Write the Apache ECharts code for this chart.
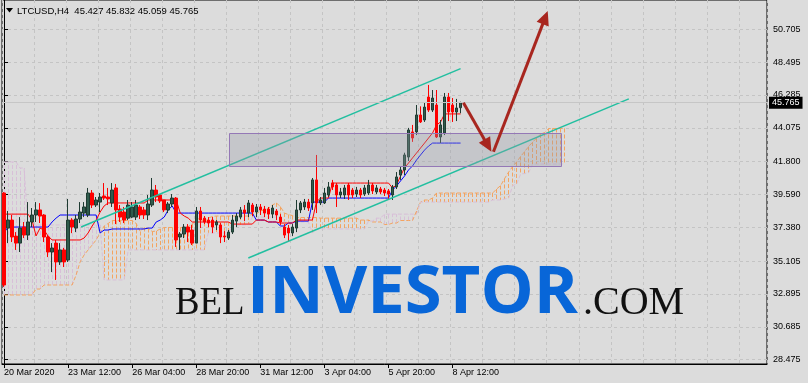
<!DOCTYPE html>
<html>
<head>
<meta charset="utf-8">
<script src="https://cdn.jsdelivr.net/npm/echarts@6/dist/echarts.min.js"></script>
<style>
html,body{margin:0;padding:0;background:#dcdcdc;overflow:hidden;}
#chart{width:808px;height:383px;}
</style>
</head>
<body>
<div id="chart"></div>
<script>
// ---------- data ----------
const symbolLine = 'LTCUSD,H4  45.427 45.832 45.059 45.765';
const lastPrice = 45.765;
const slotCount = 191;           // bar slots across the plot (bars + empty right side)
const xTickLabels = ['20 Mar 2020','23 Mar 12:00','26 Mar 04:00','28 Mar 20:00','31 Mar 12:00','3 Apr 04:00','5 Apr 20:00','8 Apr 12:00'];
const xTickEvery = 16;
const yTicks = [28.475, 30.685, 32.895, 35.105, 37.380, 39.590, 41.800, 44.075, 46.285, 48.495, 50.705];

const opens = [39.69,37.33,37.87,36.79,36.32,37.40,36.86,37.74,38.21,38.55,
 38.21,36.73,35.72,36.32,35.05,35.86,35.18,37.87,37.33,37.94,
 38.34,38.21,39.69,38.88,39.08,39.49,39.42,39.02,40.03,38.61,
 38.41,38.00,38.07,38.07,38.75,38.55,38.21,38.88,39.89,39.56,
 39.22,38.55,38.95,39.35,36.73,36.93,37.40,37.20,36.32,38.48,
 38.00,37.87,37.87,37.54,37.54,36.80,36.66,37.06,37.80,38.07,
 38.55,38.34,38.88,38.41,38.75,38.61,38.61,38.27,38.48,38.07,
 37.40,37.33,37.00,37.33,38.55,38.75,39.08,39.02,40.57,39.02,
 39.02,39.56,40.37,40.23,39.56,39.56,40.23,39.89,39.62,39.89,
 39.62,39.69,40.23,39.76,39.96,39.89,39.83,39.56,40.10,40.90,
 41.24,42.11,43.80,43.80,44.94,44.60,46.15,45.27,45.61,43.46,
 43.73,46.15,45.61,45.14,45.427];
const closes = [33.50,37.87,36.73,36.32,37.33,36.86,37.74,38.21,38.55,38.14,
 36.73,35.72,35.99,35.05,35.86,35.05,37.87,37.40,37.94,38.41,
 38.75,39.69,38.88,39.22,39.42,39.35,39.29,39.89,38.55,38.07,
 37.87,38.88,38.75,38.88,38.21,38.21,38.95,39.89,39.42,39.15,
 38.55,38.95,39.35,36.53,36.93,37.40,37.06,36.32,38.48,37.87,
 37.74,37.67,37.40,37.74,36.73,36.73,37.06,37.87,38.14,38.55,
 38.34,39.02,38.41,38.75,38.55,38.34,38.27,38.68,38.21,37.74,
 36.86,37.00,37.40,38.55,39.02,39.08,38.68,40.57,39.02,39.22,
 39.69,40.10,40.10,39.56,39.76,40.03,39.56,39.56,39.89,39.56,
 40.03,40.23,39.83,40.03,39.76,39.69,39.62,40.10,40.77,41.24,
 42.25,43.93,43.39,44.94,44.47,45.47,45.27,46.08,43.46,44.27,
 46.15,45.14,45.14,45.41,45.765];
const lows = [33.37,36.32,36.39,35.86,35.72,36.66,36.53,37.40,37.74,37.67,
 36.39,35.38,34.37,33.84,34.85,34.71,35.05,36.99,37.06,37.67,
 38.07,38.07,38.68,38.75,38.41,39.22,38.88,38.75,37.60,37.74,
 37.67,37.87,38.00,37.87,37.94,37.94,37.87,38.75,39.08,39.02,
 38.41,38.34,38.75,36.06,35.86,36.66,36.39,36.19,36.32,37.33,
 37.60,37.40,36.99,37.20,36.32,36.39,36.53,36.93,37.40,37.94,
 37.80,38.07,38.14,38.07,38.21,38.07,37.94,38.00,37.87,37.54,
 36.66,36.46,36.79,37.06,38.34,38.55,38.48,38.55,38.34,38.88,
 38.95,39.42,39.89,38.75,39.35,39.29,39.22,39.35,39.42,39.35,
 39.49,39.56,39.62,39.62,39.62,39.49,39.22,39.22,39.96,40.57,
 40.90,41.84,43.13,43.59,44.40,44.47,45.14,45.14,43.39,43.06,
 43.59,44.53,44.47,44.53,45.059];
const highs = [39.75,38.48,38.21,37.06,38.07,37.74,39.08,38.68,39.08,39.01,
 38.27,36.86,36.32,36.53,36.32,36.00,39.29,38.00,38.21,39.08,
 39.08,40.03,39.89,39.42,39.69,40.36,40.03,40.36,40.30,38.88,
 38.75,39.22,39.08,39.22,38.88,38.75,39.56,40.70,40.23,39.62,
 39.22,39.08,39.62,39.42,37.06,37.60,37.60,37.54,38.75,38.75,
 38.14,38.07,38.07,37.87,37.67,37.13,37.20,38.21,38.34,38.75,
 38.88,39.22,39.02,38.95,38.95,38.82,38.75,38.88,38.61,38.27,
 37.60,37.54,37.60,39.22,39.15,39.29,39.29,40.70,42.25,39.42,
 40.03,40.43,40.57,40.37,40.03,40.23,40.37,40.03,40.10,40.03,
 40.23,40.57,40.37,40.23,40.10,40.03,39.96,40.23,41.10,41.50,
 42.40,44.07,44.27,45.61,45.52,45.81,46.96,46.62,46.62,44.60,
 46.42,46.42,46.08,46.02,45.832];

const tenkan = [38.27,38.27,38.27,38.27,38.27,38.27,38.27,37.87,36.80,37.33,
 37.20,36.80,36.53,36.53,36.53,36.53,36.53,36.53,36.53,36.53,
 36.66,37.00,37.47,37.87,38.41,38.82,39.02,39.02,39.02,39.02,
 39.02,39.02,39.02,39.02,39.02,39.02,39.22,39.22,39.22,39.22,
 39.22,39.22,39.22,39.22,38.34,38.14,38.00,37.74,37.74,37.74,
 37.74,37.74,37.74,37.74,37.74,37.74,37.74,37.60,37.60,37.60,
 37.60,37.60,37.60,37.87,37.87,37.87,37.74,37.74,37.74,37.67,
 37.67,37.67,37.67,37.87,37.87,37.87,37.87,37.87,39.08,39.35,
 39.35,39.35,40.36,40.36,40.36,40.36,40.36,40.36,40.36,40.36,
 40.36,40.36,40.36,40.36,40.36,40.36,40.36,40.03,40.23,40.83,
 41.37,41.71,42.05,42.38,42.72,43.05,43.39,43.73,44.27,44.47,
 45.01,45.01,45.01,45.01,45.01];
const kijun = [37.00,37.40,37.40,37.40,37.40,37.40,37.40,37.40,37.40,37.40,
 37.40,37.40,37.74,38.00,38.21,38.21,38.21,38.21,38.21,38.21,
 38.21,38.21,38.21,38.21,37.00,37.20,37.20,37.27,37.27,37.27,
 37.27,37.27,37.27,37.27,37.27,37.27,37.33,37.33,37.74,37.87,
 38.07,38.55,38.82,38.34,38.34,38.34,38.34,38.34,38.34,38.34,
 38.34,38.34,38.34,38.34,38.34,38.34,38.34,38.34,38.34,38.34,
 38.34,38.34,38.34,37.87,37.87,37.87,37.74,37.74,37.74,37.47,
 37.47,37.67,37.67,37.80,37.80,37.80,37.80,39.08,39.08,39.08,
 39.08,39.35,39.35,39.35,39.35,39.35,39.35,39.35,39.35,39.35,
 39.35,39.35,39.35,39.35,39.35,39.35,39.35,39.89,40.16,40.50,
 40.83,41.24,41.51,41.91,42.25,42.58,42.85,43.05,43.05,43.05,
 43.05,43.05,43.05,43.05,43.05];
const spanA = [32.83,32.83,32.83,32.83,32.83,32.83,32.83,32.83,33.23,33.23,
 33.50,33.50,33.50,33.50,33.50,33.50,33.50,33.50,34.17,35.05,
 35.52,35.86,36.19,36.53,37.00,37.47,37.64,37.84,37.84,37.84,
 37.84,37.84,37.84,37.64,37.10,37.37,37.30,37.10,37.13,37.27,
 37.37,37.37,37.37,37.37,37.37,37.37,37.44,37.60,37.84,38.04,
 37.71,38.00,38.11,38.14,38.14,38.14,38.14,38.14,38.14,38.14,
 38.14,38.14,38.27,38.27,38.48,38.55,38.65,38.88,39.02,38.78,
 38.34,38.24,38.17,38.04,38.04,38.04,38.04,38.04,38.04,38.00,
 38.00,38.00,38.00,38.00,38.00,38.00,38.00,38.00,38.00,37.87,
 37.87,37.87,37.74,37.74,37.74,37.57,37.57,37.67,37.67,37.84,
 37.84,37.84,37.84,38.48,39.08,39.22,39.22,39.35,39.69,39.69,
 39.69,39.69,39.69,39.69,39.69,39.69,39.69,39.69,39.69,39.69,
 39.69,39.69,39.69,39.96,40.19,40.67,41.10,41.47,41.78,42.15,
 42.48,42.82,43.12,43.39,43.66,43.76,44.03,44.03,44.03,44.03,
 44.03];
const spanB = [41.78,41.78,41.78,41.78,41.37,41.37,37.54,37.54,37.54,37.54,
 37.54,37.54,37.54,37.54,37.54,37.54,37.54,37.54,37.54,37.54,
 37.54,37.54,37.54,37.54,37.54,33.84,33.84,33.84,33.84,33.84,
 33.84,35.86,35.86,35.86,35.86,35.86,35.86,35.86,35.86,35.86,
 35.86,35.86,35.86,35.86,35.86,35.86,35.86,35.86,35.86,35.86,
 35.86,37.00,37.00,37.00,37.00,37.00,37.00,37.54,37.54,37.54,
 37.54,37.54,38.07,38.07,38.07,38.07,38.07,38.07,38.07,38.07,
 37.74,37.74,37.74,37.74,37.74,37.74,37.74,37.00,37.27,37.27,
 37.27,37.27,37.27,37.27,37.27,37.27,37.27,37.27,37.27,37.27,
 37.27,37.80,37.80,38.00,38.00,38.27,38.27,38.27,38.27,38.27,
 38.27,38.27,38.27,38.27,39.08,39.08,39.08,39.08,39.08,39.08,
 39.08,39.08,39.08,39.08,39.08,39.08,39.08,39.08,39.08,39.08,
 39.08,39.08,39.22,39.22,39.22,39.29,39.35,40.19,40.29,40.97,
 41.00,41.07,41.64,41.64,41.64,41.64,41.64,41.64,41.64,41.64,
 41.64];

// hand-drawn objects, in (bar index, price)
const upperChannel = [[19.25, 37.40], [114, 48.06]];
const lowerChannel = [[61, 35.32], [156, 46.02]];
const zoneBox = [[56.3, 43.71, 139.2, 41.51]];
const arrows = [[114.7, 45.76, 121.7, 42.47], [122.2, 42.47, 135.75, 51.93]];

// ---------- chart ----------
const categories = Array.from({length: slotCount}, (_, i) => String(i));
const candleData = opens.map((o, i) => [o, closes[i], lows[i], highs[i]]);
const cloudData = spanA.map((a, i) => [i, a, spanB[i]]);
const showTick = (i) => i % xTickEvery === 0 && i / xTickEvery < xTickLabels.length;
const arrowColor = '#a8261f';
const labelFont = 'Liberation Sans';

const chart = echarts.init(document.getElementById('chart'), null, {renderer: 'canvas'});
chart.setOption({
  animation: false,
  backgroundColor: '#dcdcdc',
  grid: {left: 2, right: 41, top: 0, bottom: 19, show: true, borderColor: '#000', borderWidth: 1, backgroundColor: 'transparent'},
  xAxis: [
    {
      type: 'category', data: categories, boundaryGap: true,
      axisLine: {show: true, lineStyle: {color: '#000'}},
      axisTick: {show: true, alignWithLabel: true, length: 4, interval: showTick, lineStyle: {color: '#000'}},
      axisLabel: {show: true, interval: showTick, formatter: (v, i) => xTickLabels[i / xTickEvery] || '',
        align: 'left', margin: 4, fontSize: 9, fontFamily: labelFont, color: '#000'},
      splitLine: {show: true, interval: 7, lineStyle: {color: '#c4c4c4', type: [3, 3], width: 1}}
    },
    {type: 'value', min: -0.5, max: slotCount - 0.5, show: false}
  ],
  yAxis: {
    type: 'value', position: 'right', min: 28.186, max: 52.675,
    axisLine: {show: true, lineStyle: {color: '#000'}},
    axisTick: {show: true, length: 4, customValues: yTicks, lineStyle: {color: '#000'}},
    axisLabel: {customValues: yTicks, formatter: (v) => v.toFixed(3), fontSize: 9, fontFamily: labelFont, color: '#000', margin: 6},
    splitLine: {show: true, lineStyle: {color: '#c4c4c4', type: [3, 3], width: 1}}
  },
  graphic: [
    {type: 'polygon', z: 10, shape: {points: [[6, 8], [13, 8], [9.5, 12.5]]}, style: {fill: '#000'}},
    {type: 'text', z: 10, x: 17, y: 11, style: {text: symbolLine, fontSize: 9.5, fontFamily: labelFont, fill: '#000', verticalAlign: 'middle'}},
    {type: 'text', z: 1, x: 175, y: 303, scaleX: 0.92, style: {text: 'BEL', fontSize: 40, fontFamily: 'Liberation Serif', fill: '#111', verticalAlign: 'middle'}},
    {type: 'text', z: 1, x: 247, y: 294, style: {text: 'INVESTOR', fontSize: 67, fontWeight: 'bold', fontFamily: 'Open Sans', fill: '#0866d8', verticalAlign: 'middle'}},
    {type: 'text', z: 1, x: 583, y: 303, style: {text: '.COM', fontSize: 40, fontFamily: 'Liberation Serif', fill: '#111', verticalAlign: 'middle'}}
  ],
  series: [
    {
      type: 'custom', name: 'cloud', z: 1, silent: true, data: cloudData,
      encode: {x: 0, y: [1, 2]},
      renderItem: (params, api) => {
        const a = api.value(1), b = api.value(2);
        const p1 = api.coord([api.value(0), a]);
        const p2 = api.coord([api.value(0), b]);
        const x = Math.floor(p1[0]) + 0.5;
        return {type: 'line', shape: {x1: x, y1: p1[1], x2: x, y2: p2[1]},
          style: {stroke: a >= b ? '#f4a460' : '#d8bfd8', lineWidth: 1, lineDash: [4, 2]}};
      }
    },
    {type: 'line', name: 'Senkou A', z: 1, data: spanA, symbol: 'none', silent: true,
      lineStyle: {color: '#f4a460', width: 1, type: [4, 2]}},
    {type: 'line', name: 'Senkou B', z: 1, data: spanB, symbol: 'none', silent: true,
      lineStyle: {color: '#d8bfd8', width: 1, type: [4, 2]}},
    {type: 'line', name: 'Kijun', z: 2, data: kijun, symbol: 'none', silent: true,
      lineStyle: {color: '#0000ff', width: 1}},
    {type: 'line', name: 'Tenkan', z: 2, data: tenkan, symbol: 'none', silent: true,
      lineStyle: {color: '#ff0000', width: 1}},
    {
      type: 'candlestick', name: 'LTCUSD', z: 3, data: candleData, barWidth: 3,
      itemStyle: {color: '#2f5b4c', color0: '#ff0000', borderColor: '#1f3b32', borderColor0: '#ff0000', borderWidth: 1},
      markLine: {
        silent: true, symbol: ['none', 'none'], animation: false,
        data: [{yAxis: lastPrice}],
        lineStyle: {color: '#c6c6c6', type: 'solid', width: 1},
        label: {show: true, position: 'end', formatter: lastPrice.toFixed(3), color: '#fff', backgroundColor: '#000',
          padding: [2, 3, 1, 3], fontSize: 9, fontFamily: labelFont, distance: 2}
      }
    },
    {type: 'line', name: 'upper channel', xAxisIndex: 1, z: 4, data: upperChannel, symbol: 'none', silent: true,
      lineStyle: {color: '#22bfa0', width: 1.5}},
    {type: 'line', name: 'lower channel', xAxisIndex: 1, z: 4, data: lowerChannel, symbol: 'none', silent: true,
      lineStyle: {color: '#22bfa0', width: 1.5}},
    {
      type: 'custom', name: 'zone', xAxisIndex: 1, z: 5, silent: true, data: zoneBox,
      encode: {x: [0, 2], y: [1, 3]},
      renderItem: (params, api) => {
        const p1 = api.coord([api.value(0), api.value(1)]);
        const p2 = api.coord([api.value(2), api.value(3)]);
        return {type: 'rect', shape: {x: Math.round(p1[0]) + 0.5, y: Math.round(p1[1]) + 0.5,
          width: Math.round(p2[0] - p1[0]), height: Math.round(p2[1] - p1[1])},
          style: {fill: 'rgba(150,152,166,0.32)', stroke: '#9478b6', lineWidth: 1}};
      }
    },
    {
      type: 'custom', name: 'arrows', xAxisIndex: 1, z: 6, silent: true, data: arrows,
      encode: {x: [0, 2], y: [1, 3]},
      renderItem: (params, api) => {
        const s = api.coord([api.value(0), api.value(1)]);
        const e = api.coord([api.value(2), api.value(3)]);
        const dx = e[0] - s[0], dy = e[1] - s[1];
        const len = Math.hypot(dx, dy);
        const ux = dx / len, uy = dy / len;
        const hl = 14, hw = 6.5;
        const bx = e[0] - ux * hl, by = e[1] - uy * hl;
        return {type: 'group', children: [
          {type: 'line', shape: {x1: s[0], y1: s[1], x2: bx + ux * 3, y2: by + uy * 3},
            style: {stroke: arrowColor, lineWidth: 3}},
          {type: 'polygon', shape: {points: [[e[0], e[1]], [bx - uy * hw, by + ux * hw], [bx + uy * hw, by - ux * hw]]},
            style: {fill: arrowColor}}
        ]};
      }
    }
  ]
});
</script>
</body>
</html>
